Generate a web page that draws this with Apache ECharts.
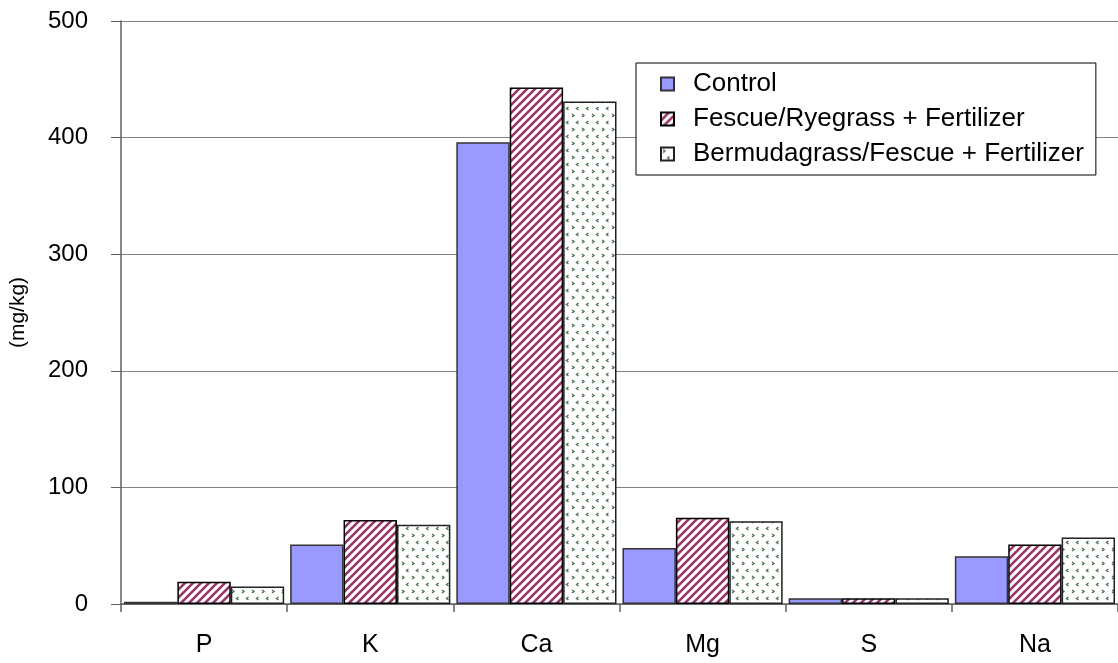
<!doctype html>
<html>
<head>
<meta charset="utf-8">
<title>Soil nutrients</title>
<style type="text/css">
html, body { margin: 0; padding: 0; background: #fff; }
#chart { width: 1118px; height: 663px; }
</style>
<script type="text/javascript" src="https://cdn.jsdelivr.net/npm/echarts@6/dist/echarts.min.js"></script>
</head>
<body>
<div id="chart"></div>
<script type="text/javascript">
var categories = ['P', 'K', 'Ca', 'Mg', 'S', 'Na'];
var seriesNames = ['Control', 'Fescue/Ryegrass + Fertilizer', 'Bermudagrass/Fescue + Fertilizer'];
var control = [2, 51, 396, 48, 5, 41];
var fescueRye = [19, 72, 443, 74, 5, 51];
var bermudaFescue = [15, 68, 431, 71, 5, 57];
var yTicks = [0, 100, 200, 300, 400, 500];

// hatch fill for the 2nd series
function stripeTile() {
    var c = document.createElement('canvas');
    c.width = 8; c.height = 8;
    var g = c.getContext('2d');
    g.fillStyle = '#fff';
    g.fillRect(0, 0, 8, 8);
    g.strokeStyle = '#993366';
    g.lineWidth = 2.6;
    [[-8, 8, 8, -8], [0, 8, 8, 0], [0, 16, 16, 0]].forEach(function (l) {
        g.beginPath();
        g.moveTo(l[0], l[1]);
        g.lineTo(l[2], l[3]);
        g.stroke();
    });
    return c;
}

// little > < marks for the 3rd series
function dotTile() {
    var c = document.createElement('canvas');
    c.width = 10; c.height = 14;
    var g = c.getContext('2d');
    g.fillStyle = '#fff';
    g.fillRect(0, 0, 10, 14);
    g.strokeStyle = '#4f744f';
    g.lineWidth = 1.4;
    g.beginPath();
    g.moveTo(2, 2); g.lineTo(4, 3.5); g.lineTo(2, 5);
    g.moveTo(8.5, 9); g.lineTo(6.5, 10.5); g.lineTo(8.5, 12);
    g.stroke();
    return c;
}

var fills = [
    '#9999ff',
    { image: stripeTile(), repeat: 'repeat' },
    { image: dotTile(), repeat: 'repeat' }
];
var borders = ['#333', '#000', '#222'];
var font = 'Arial, "Liberation Sans", sans-serif';

var myChart = echarts.init(document.getElementById('chart'));

var series = [control, fescueRye, bermudaFescue].map(function (vals, i) {
    return {
        name: seriesNames[i],
        type: 'bar',
        data: vals,
        barGap: '0%',
        barCategoryGap: '3.6%',
        itemStyle: {
            color: fills[i],
            borderColor: borders[i],
            borderWidth: 1.5
        },
        emphasis: { disabled: true },
        animation: false
    };
});

var option = {
    backgroundColor: '#fff',
    animation: false,
    textStyle: { fontFamily: font },
    grid: {
        left: 121,
        top: 21,
        width: 1008,
        height: 583,
        containLabel: false
    },
    legend: {
        orient: 'vertical',
        left: 636,
        top: 63,
        padding: [8, 12, 8, 24],
        itemGap: 9,
        itemWidth: 13,
        itemHeight: 13,
        icon: 'rect',
        borderColor: '#000',
        borderWidth: 1,
        backgroundColor: '#fff',
        textStyle: { fontSize: 26, color: '#000', fontFamily: font, padding: [0, 0, 0, 14] },
        data: seriesNames
    },
    xAxis: {
        type: 'category',
        data: categories,
        axisLine: { lineStyle: { color: '#606060', width: 1.5 } },
        axisTick: { show: true, length: 8, lineStyle: { color: '#606060', width: 1.5 } },
        axisLabel: { fontSize: 25, color: '#000', margin: 29, fontFamily: font }
    },
    yAxis: {
        type: 'value',
        min: 0,
        max: 500,
        interval: 100,
        name: '(mg/kg)',
        nameLocation: 'middle',
        nameRotate: 90,
        nameGap: 92,
        nameTextStyle: { fontSize: 21, color: '#000', fontFamily: font },
        axisLine: { show: true, lineStyle: { color: '#606060', width: 1.5 } },
        axisTick: { show: true, length: 10, lineStyle: { color: '#606060', width: 1 } },
        axisLabel: {
            fontSize: 24, color: '#000', margin: 33, fontFamily: font,
            formatter: function (v) { return yTicks.indexOf(v) >= 0 ? String(v) : ''; }
        },
        splitLine: { show: true, lineStyle: { color: '#808080', width: 1.2 } }
    },
    series: series
};
myChart.setOption(option);
</script>
</body>
</html>
